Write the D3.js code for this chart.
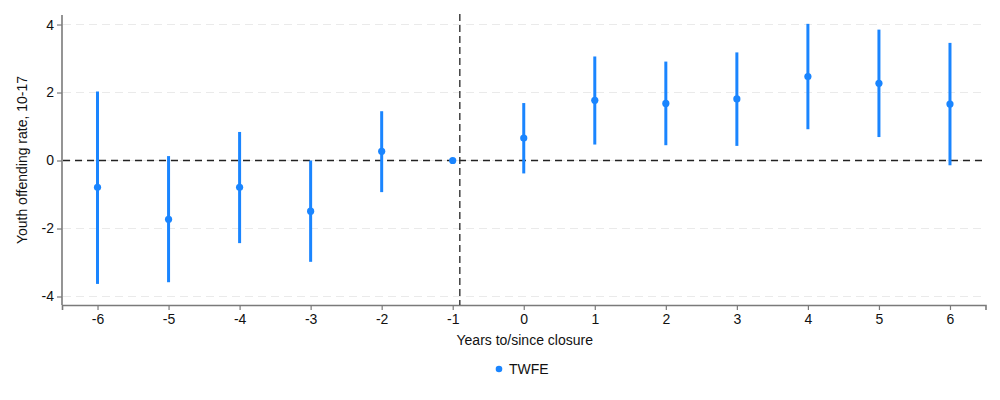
<!DOCTYPE html>
<html><head><meta charset="utf-8">
<script src="https://cdn.jsdelivr.net/npm/d3@7"></script>
<style>body{margin:0;background:#fff;} svg{display:block;font-family:"Liberation Sans",Arial,Helvetica,sans-serif;}</style>
</head><body>
<svg id="c" width="1000" height="400"></svg>
<script>
const years = [-6,-5,-4,-3,-2,-1,0,1,2,3,4,5,6];
const estimates = [-0.79,-1.73,-0.79,-1.49,0.27,0,0.66,1.77,1.68,1.81,2.47,2.27,1.66];
const ciLower = [-3.63,-3.58,-2.43,-2.98,-0.93,null,-0.38,0.47,0.45,0.43,0.92,0.69,-0.14];
const ciUpper = [2.03,0.13,0.84,0.0,1.45,null,1.69,3.06,2.91,3.18,4.02,3.85,3.46];
const yTicks = [-4,-2,0,2,4];
const xTicks = years;
const seriesName = "TWFE";
const xTitle = "Years to/since closure";
const yTitle = "Youth offending rate, 10-17";
const refX = -0.9;

const svg = d3.select("#c");
const x = d3.scaleLinear().domain([-6.5,6.5]).range([62,985.5]);
const y = d3.scaleLinear().domain([-4.25,4.28]).range([305,15]);
const blue = "#1a85ff";

// gridlines
svg.append("g").selectAll("line").data(yTicks).join("line")
  .attr("x1",63).attr("x2",985).attr("y1",d=>y(d)).attr("y2",d=>y(d))
  .attr("stroke","#eaeaea").attr("stroke-width",1).attr("stroke-dasharray","8,5");

// axes
const xa = svg.append("g").attr("transform","translate(0,305)")
  .call(d3.axisBottom(x).tickValues(xTicks).tickSize(5).tickPadding(4).tickFormat(d=>String(d)));
const ya = svg.append("g").attr("transform","translate(62,0)")
  .call(d3.axisLeft(y).tickValues(yTicks).tickSize(5).tickPadding(3).tickFormat(d=>String(d)));
[xa,ya].forEach(a=>{
  a.select(".domain").attr("stroke","#7a7a7a").attr("stroke-width",1.6);
  a.selectAll(".tick line").attr("stroke","#7a7a7a").attr("stroke-width",1.2);
  a.selectAll(".tick text").attr("fill","#111").attr("font-size",14).attr("font-family","Liberation Sans, Arial, sans-serif");
});
ya.select(".domain").attr("d","M0,15V305");

// reference lines
svg.append("line").attr("x1",63).attr("x2",985).attr("y1",y(0)).attr("y2",y(0))
  .attr("stroke","#222").attr("stroke-width",1.4).attr("stroke-dasharray","7,5");
svg.append("line").attr("x1",x(refX)).attr("x2",x(refX)).attr("y1",14).attr("y2",305)
  .attr("stroke","#333").attr("stroke-width",1.4).attr("stroke-dasharray","7,4");

// error bars
const data = years.map((d,i)=>({yr:d,est:estimates[i],lo:ciLower[i],hi:ciUpper[i]}));
svg.append("g").selectAll("line").data(data.filter(d=>d.lo!==null)).join("line")
  .attr("x1",d=>x(d.yr)).attr("x2",d=>x(d.yr)).attr("y1",d=>y(d.lo)).attr("y2",d=>y(d.hi))
  .attr("stroke",blue).attr("stroke-width",3);
svg.append("g").selectAll("circle").data(data).join("circle")
  .attr("cx",d=>x(d.yr)).attr("cy",d=>y(d.est)).attr("r",3.6).attr("fill",blue);

// titles
svg.append("text").attr("x",(x(-6.5)+x(6.5))/2+1).attr("y",345).attr("text-anchor","middle")
  .attr("font-size",14).attr("fill","#111").text(xTitle);
svg.append("text").attr("transform","translate(27,160) rotate(-90)").attr("text-anchor","middle")
  .attr("font-size",14).attr("fill","#111").text(yTitle);

// legend
svg.append("circle").attr("cx",499).attr("cy",369).attr("r",3.3).attr("fill",blue);
svg.append("text").attr("x",509).attr("y",374).attr("font-size",14).attr("fill","#111").text(seriesName);
</script>
</body></html>
